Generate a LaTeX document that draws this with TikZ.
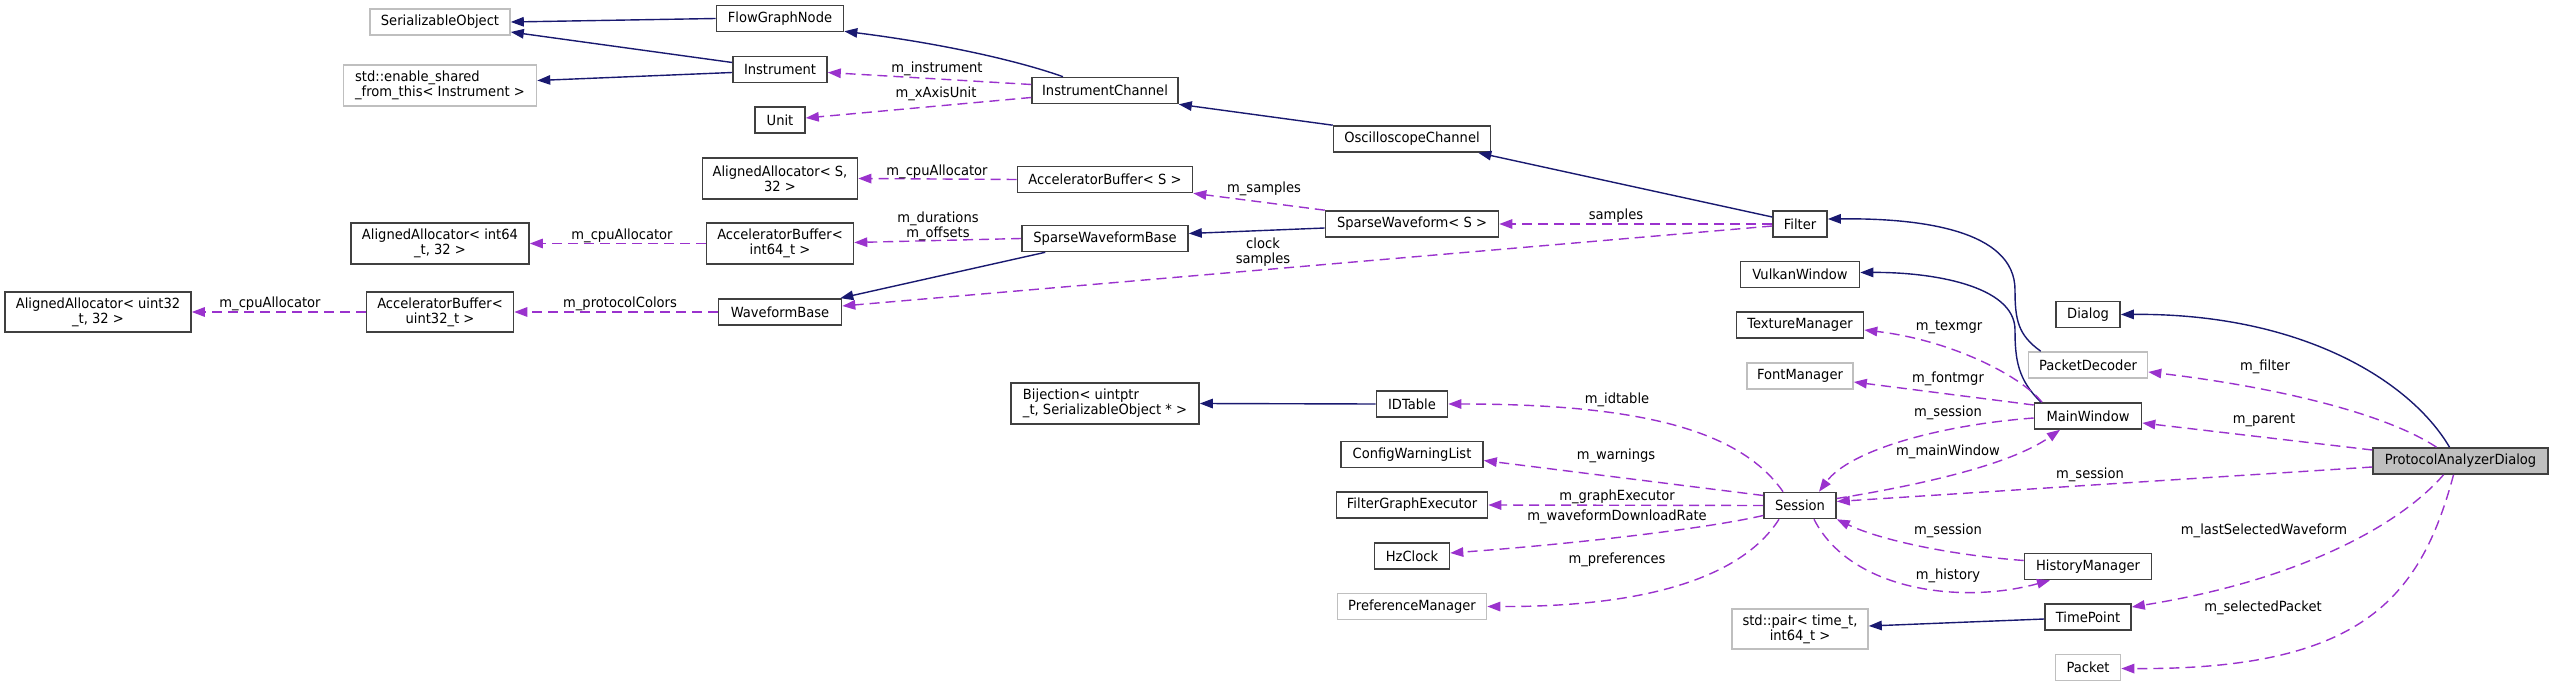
\documentclass[tikz,border=0pt]{standalone}
\usepackage{fontspec}
\setmainfont{DejaVu Sans}[FakeStretch=0.935]
\usetikzlibrary{arrows.meta,calc,positioning}
\definecolor{navyedge}{HTML}{191970}
\definecolor{useedge}{HTML}{9A32CD}
\definecolor{boxline}{HTML}{404040}
\definecolor{extline}{HTML}{BFBFBF}
\definecolor{selfill}{HTML}{BFBFBF}

\begin{document}
\begin{tikzpicture}[x=1pt, y=-1pt,
cls/.style={rectangle, draw=boxline, line width=1.6pt, fill=white, minimum height=26pt, inner xsep=2pt, inner ysep=1pt, align=center, font=\fontsize{14}{15}\selectfont},
ext/.style={cls, draw=extline},
self/.style={cls, fill=selfill},
inherit/.style={-{Triangle[length=13pt,width=9.5pt]}, color=navyedge, line width=1.4pt},
usage/.style={-{Triangle[length=13pt,width=9.5pt]}, color=useedge, line width=1.4pt, dash pattern=on 10pt off 6pt},
lbl/.style={text=black, inner sep=1pt, align=center, font=\fontsize{14}{15}\selectfont}
]
\useasboundingbox (0,0) rectangle (2553,687);
% classes, column by column
\node[ext, minimum width=140pt] (serobj) at (440,22) {SerializableObject};
\node[ext, minimum width=193pt, minimum height=41pt, align=left] (enshared) at (440,85.5) {std::enable\_shared\\\_from\_this< Instrument >};
\node[cls, minimum width=178pt, minimum height=41pt] (aai64) at (440,243.5) {AlignedAllocator< int64\\\_t, 32 >};
\node[cls, minimum width=147pt, minimum height=40pt] (abu32) at (440,312) {AcceleratorBuffer<\\uint32\_t >};
\node[cls, minimum width=186pt, minimum height=40pt] (aau32) at (98,312) {AlignedAllocator< uint32\\\_t, 32 >};
\node[cls, minimum width=127pt] (fgn) at (780,18.5) {FlowGraphNode};
\node[cls, minimum width=94pt] (instr) at (780,69.5) {Instrument};
\node[cls, minimum width=50pt] (unit) at (780,120) {Unit};
\node[cls, minimum width=155pt, minimum height=41pt] (aas) at (780,178.5) {AlignedAllocator< S,\\32 >};
\node[cls, minimum width=147pt, minimum height=41pt] (abi64) at (780,243.5) {AcceleratorBuffer<\\int64\_t >};
\node[cls, minimum width=123pt] (wfbase) at (780,312) {WaveformBase};
\node[cls, minimum width=146pt] (ichan) at (1105,90.5) {InstrumentChannel};
\node[cls, minimum width=175pt] (abs) at (1105,179.5) {AcceleratorBuffer< S >};
\node[cls, minimum width=166pt] (swbase) at (1105,238.5) {SparseWaveformBase};
\node[cls, minimum width=188pt, minimum height=41pt, align=left] (bij) at (1105,403.5) {Bijection< uintptr\\\_t, SerializableObject * >};
\node[cls, minimum width=157pt] (oscch) at (1412,139) {OscilloscopeChannel};
\node[cls, minimum width=173pt] (sw) at (1412,224) {SparseWaveform< S >};
\node[cls, minimum width=71pt] (idtab) at (1412,404) {IDTable};
\node[cls, minimum width=142pt] (cwl) at (1412,454.5) {ConfigWarningList};
\node[cls, minimum width=151pt] (fge) at (1412,505) {FilterGraphExecutor};
\node[cls, minimum width=75pt] (hzclk) at (1412,556) {HzClock};
\node[ext, minimum width=149pt] (prefmgr) at (1412,606.5) {PreferenceManager};
\node[cls, minimum width=54pt] (filter) at (1800,224) {Filter};
\node[cls, minimum width=119pt] (vkwin) at (1800,274.5) {VulkanWindow};
\node[cls, minimum width=127pt] (texmgr) at (1800,325) {TextureManager};
\node[ext, minimum width=106pt] (fontmgr) at (1800,376) {FontManager};
\node[cls, minimum width=72pt] (session) at (1800,505.5) {Session};
\node[ext, minimum width=136pt, minimum height=40pt] (stdpair) at (1800,629) {std::pair< time\_t,\\int64\_t >};
\node[cls, minimum width=64pt] (dialog) at (2088,314.5) {Dialog};
\node[ext, minimum width=119pt] (pktdec) at (2088,365) {PacketDecoder};
\node[cls, minimum width=107pt] (mainwin) at (2088,416) {MainWindow};
\node[cls, minimum width=127pt] (histmgr) at (2088,566.5) {HistoryManager};
\node[cls, minimum width=86pt] (tpoint) at (2088,617) {TimePoint};
\node[ext, minimum width=65pt] (packet) at (2088,667.5) {Packet};
\node[self, minimum width=175pt] (pad) at (2460.5,461) {ProtocolAnalyzerDialog};

% inheritance
\draw[inherit] (fgn.west) -- (serobj.east);
\draw[inherit] ($(instr.west)+(0,-7)$) -- ($(serobj.east)+(0,10)$);
\draw[inherit] ($(instr.west)+(0,3)$) -- ($(enshared.east)+(0,-5)$);
\draw[inherit] ($(ichan.north)+(-42,0)$) .. controls (1010,58) and (930,42) .. ($(fgn.south east)+(0,-1)$);
\draw[inherit] (oscch.north west) -- (ichan.south east);
\draw[inherit] ($(filter.west)+(0,-7)$) -- ($(oscch.south east)+(-13,0)$);
\draw[inherit] ($(sw.west)+(0,4)$) -- ($(swbase.east)+(0,-5)$);
\draw[inherit] ($(swbase.south west)+(24,0)$) -- ($(wfbase.north east)+(-2,0)$);
\draw[inherit] ($(pktdec.north west)+(13,0)$) .. controls (2018,335) and (2015,320) .. (2015,290) .. controls (2015,230) and (1920,218) .. ($(filter.east)+(0,-5)$);
\draw[inherit] ($(mainwin.north)+(-47,0)$) .. controls (2018,380) and (2015,360) .. (2015,330) .. controls (2015,285) and (1930,272) .. ($(vkwin.east)+(0,-2)$);
\draw[inherit] ($(pad.north)+(-11,0)$) .. controls (2410,380) and (2300,313) .. (dialog.east);
\draw[inherit] (idtab.west) -- (bij.east);
\draw[inherit] ($(tpoint.west)+(0,2)$) -- ($(stdpair.east)+(0,-3)$);

% members
\draw[usage] ($(ichan.west)+(0,-6)$) -- ($(instr.east)+(0,3)$) node[lbl] at (937,69) {m\_instrument};
\draw[usage] ($(ichan.west)+(0,7)$) -- ($(unit.east)+(0,-2)$) node[lbl] at (936,94) {m\_xAxisUnit};
\draw[usage] (abs.west) -- (aas.east) node[lbl] at (937,172) {m\_cpuAllocator};
\draw[usage] (sw.north west) -- (abs.south east) node[lbl] at (1264,189) {m\_samples};
\draw[usage] (swbase.west) -- ($(abi64.east)+(0,-1)$) node[lbl] at (938,226) {m\_durations\\m\_offsets};
\draw[usage] (abi64.west) -- (aai64.east) node[lbl] at (622,236) {m\_cpuAllocator};
\draw[usage] (abu32.west) -- (aau32.east) node[lbl] at (270,304) {m\_cpuAllocator};
\draw[usage] (wfbase.west) -- (abu32.east) node[lbl] at (620,304) {m\_protocolColors};
\draw[usage] (filter.west) -- (sw.east) node[lbl] at (1616,216) {samples};
\draw[usage] ($(filter.west)+(0,2)$) -- ($(wfbase.east)+(0,-6)$) node[lbl] at (1263,252) {clock\\samples};
\draw[usage] ($(mainwin.north)+(-46,0)$) .. controls (2020,375) and (1950,340) .. ($(texmgr.east)+(0,5)$) node[lbl] at (1949,327) {m\_texmgr};
\draw[usage] ($(mainwin.west)+(0,-11)$) -- ($(fontmgr.east)+(0,6)$) node[lbl] at (1948,379) {m\_fontmgr};
\draw[usage] ($(mainwin.west)+(0,2)$) .. controls (1940,425) and (1850,450) .. ($(session.north)+(19,0)$) node[lbl] at (1948,413) {m\_session};
\draw[usage] ($(session.east)+(0,-7)$) .. controls (1920,485) and (2010,465) .. ($(mainwin.south)+(-28,0)$) node[lbl] at (1948,452) {m\_mainWindow};
\draw[usage] ($(pad.north)+(-24,0)$) .. controls (2380,410) and (2260,385) .. ($(pktdec.east)+(0,7)$) node[lbl] at (2265,367) {m\_filter};
\draw[usage] ($(pad.west)+(0,-11)$) -- ($(mainwin.east)+(0,7)$) node[lbl] at (2264,420) {m\_parent};
\draw[usage] ($(pad.west)+(0,6)$) -- ($(session.east)+(0,-4)$) node[lbl] at (2090,475) {m\_session};
\draw[usage] ($(pad.south)+(-17,0)$) .. controls (2400,525) and (2300,580) .. ($(tpoint.east)+(0,-10)$) node[lbl] at (2264,531) {m\_lastSelectedWaveform};
\draw[usage] ($(pad.south)+(-7,0)$) .. controls (2420,600) and (2360,670) .. ($(packet.east)+(0,1)$) node[lbl] at (2263,608) {m\_selectedPacket};
\draw[usage] ($(session.north)+(-17,0)$) .. controls (1740,430) and (1640,404) .. (idtab.east) node[lbl] at (1617,400) {m\_idtable};
\draw[usage] ($(session.west)+(0,-10)$) -- ($(cwl.east)+(0,6)$) node[lbl] at (1616,456) {m\_warnings};
\draw[usage] (session.west) -- (fge.east) node[lbl] at (1617,497) {m\_graphExecutor};
\draw[usage] ($(session.west)+(0,10)$) .. controls (1700,530) and (1560,545) .. ($(hzclk.east)+(0,-3)$) node[lbl] at (1617,517) {m\_waveformDownloadRate};
\draw[usage] ($(session.south)+(-21,0)$) .. controls (1740,580) and (1640,607) .. (prefmgr.east) node[lbl] at (1617,560) {m\_preferences};
\draw[usage] ($(histmgr.west)+(0,-6)$) .. controls (1950,555) and (1880,540) .. (session.south east) node[lbl] at (1948,531) {m\_session};
\draw[usage] ($(session.south)+(14,0)$) .. controls (1850,590) and (1960,605) .. ($(histmgr.south)+(-38,0)$) node[lbl] at (1948,576) {m\_history};
\end{tikzpicture}
\end{document}
